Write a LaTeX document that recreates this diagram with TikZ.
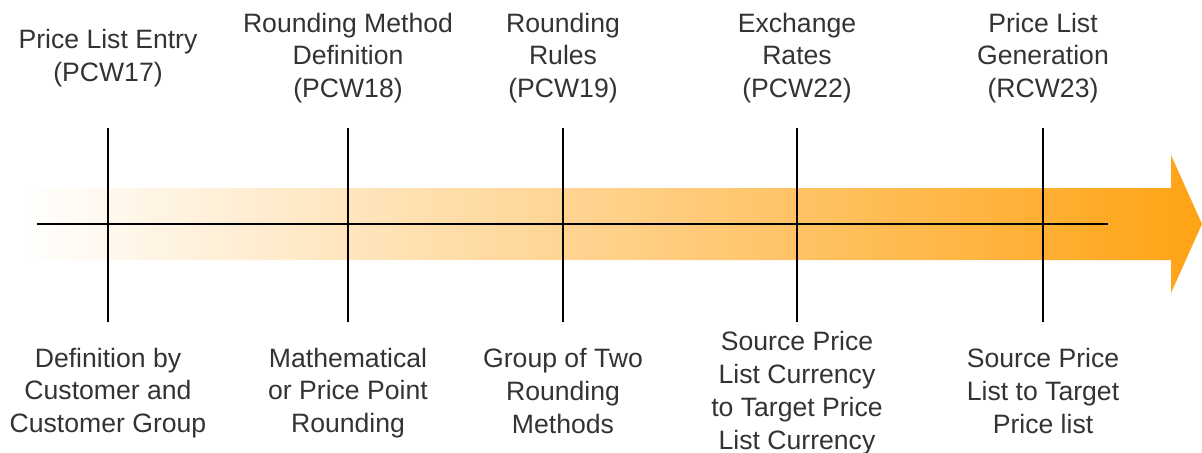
\documentclass[tikz,border=0pt]{standalone}
\usepackage{fontspec}
\setmainfont{Liberation Sans}
\begin{document}
\begin{tikzpicture}[x=0.5pt,y=-0.5pt,
  lbl/.style={align=center,inner sep=0pt,font=\fontsize{13.3pt}{16.4pt}\selectfont,text=black!80},
  tick/.style={line width=1.3pt,black},
  axis/.style={line width=1.3pt,black}]
\useasboundingbox (0,0) rectangle (1202,452);
% shaded arrow
\shade[left color=white,right color={rgb,255:red,255;green,163;blue,20},shading angle=90]
  (20,188) -- (1171,188) -- (1171,155) -- (1202,224) -- (1171,293) -- (1171,260) -- (20,260) -- cycle;
\coordinate (axL) at (37,224);
\coordinate (axR) at (1108,224);
\draw[axis] (axL) -- (axR);
\foreach \n/\x in {a/108,b/348,c/563,d/797,e/1043}{
  \coordinate (\n top) at (\x,128);
  \coordinate (\n bot) at (\x,322);
  \draw[tick] (\n top) -- (\n bot);
}
\node[lbl] (ta) at (108,58) {Price List Entry\\(PCW17)};
\node[lbl] (tb) at (348,58) {Rounding Method\\Definition\\(PCW18)};
\node[lbl] (tc) at (563,58) {Rounding\\Rules\\(PCW19)};
\node[lbl] (td) at (797,58) {Exchange\\Rates\\(PCW22)};
\node[lbl] (te) at (1043,58) {Price List\\Generation\\(RCW23)};
\node[lbl] (ba) at (108,393) {Definition by\\Customer and\\Customer Group};
\node[lbl] (bb) at (348,393) {Mathematical\\or Price Point\\Rounding};
\node[lbl] (bc) at (563,391) {Group of Two\\Rounding\\Methods};
\node[lbl] (bd) at (797,393) {Source Price\\List Currency\\to Target Price\\List Currency};
\node[lbl] (be) at (1043,391) {Source Price\\List to Target\\Price list};
\end{tikzpicture}
\end{document}
